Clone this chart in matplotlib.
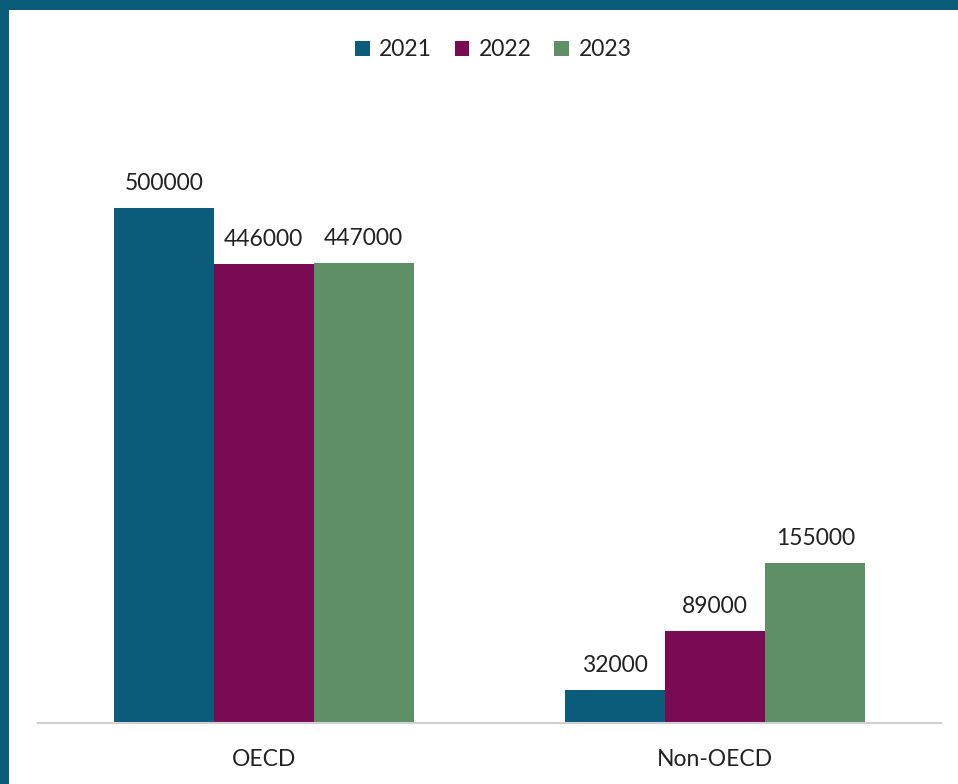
import matplotlib
matplotlib.use("Agg")
import matplotlib.pyplot as plt
from matplotlib.patches import Rectangle
import numpy as np

categories = ["OECD", "Non-OECD"]
years = ["2021", "2022", "2023"]
values_2021 = [500000, 32000]
values_2022 = [446000, 89000]
values_2023 = [447000, 155000]
colors = ["#0b5c7a", "#7b0a55", "#5f8f65"]

plt.rcParams['font.family'] = ['Lato', 'DejaVu Sans']

W, H = 958, 784
fig = plt.figure(figsize=(W/100, H/100), dpi=100)
fig.patch.set_facecolor("white")

# border strips (top and left)
fig.patches.append(Rectangle((0, 1 - 10/H), 1, 10/H, transform=fig.transFigure,
                             facecolor="#0b5b7b", edgecolor="none", zorder=0))
fig.patches.append(Rectangle((0, 0), 9/W, 1, transform=fig.transFigure,
                             facecolor="#0b5b7b", edgecolor="none", zorder=0))

ax_left, ax_right = 38/W, 941/W
ax_bottom = 1 - 723/H
ax_top = 1 - 105/H
ax = fig.add_axes([ax_left, ax_bottom, ax_right - ax_left, ax_top - ax_bottom])

x = np.arange(len(categories))
bw = 100/451.5
series = [values_2021, values_2022, values_2023]
for i, (vals, col, yr) in enumerate(zip(series, colors, years)):
    pos = x + (i - 1) * bw
    bars = ax.bar(pos, vals, width=bw, color=col, label=yr, zorder=2)
    for b, v in zip(bars, vals):
        ax.text(b.get_x() + b.get_width()/2, v + 13500, f"{v}", ha="center", va="bottom",
                fontsize=16.5, color="#222222")

ax.set_xlim(-0.5, 1.5)
ax.set_ylim(0, 600000)
ax.set_yticks([])
for s in ["top", "right", "left"]:
    ax.spines[s].set_visible(False)
ax.spines["bottom"].set_color("#d0d0d0")
ax.spines["bottom"].set_linewidth(1.5)
ax.set_xticks(x)
ax.set_xticklabels(categories, fontsize=16.5, color="#222222")
ax.tick_params(axis="x", length=0, pad=19)

leg = fig.legend(loc="center", bbox_to_anchor=(493/W, 1 - 50/H), ncol=3, frameon=False,
                 fontsize=16.5, handlelength=0.65, handleheight=0.65, handletextpad=0.4,
                 columnspacing=1.0)
for t in leg.get_texts():
    t.set_color("#222222")

fig.savefig("out.png", dpi=100, facecolor="white")
